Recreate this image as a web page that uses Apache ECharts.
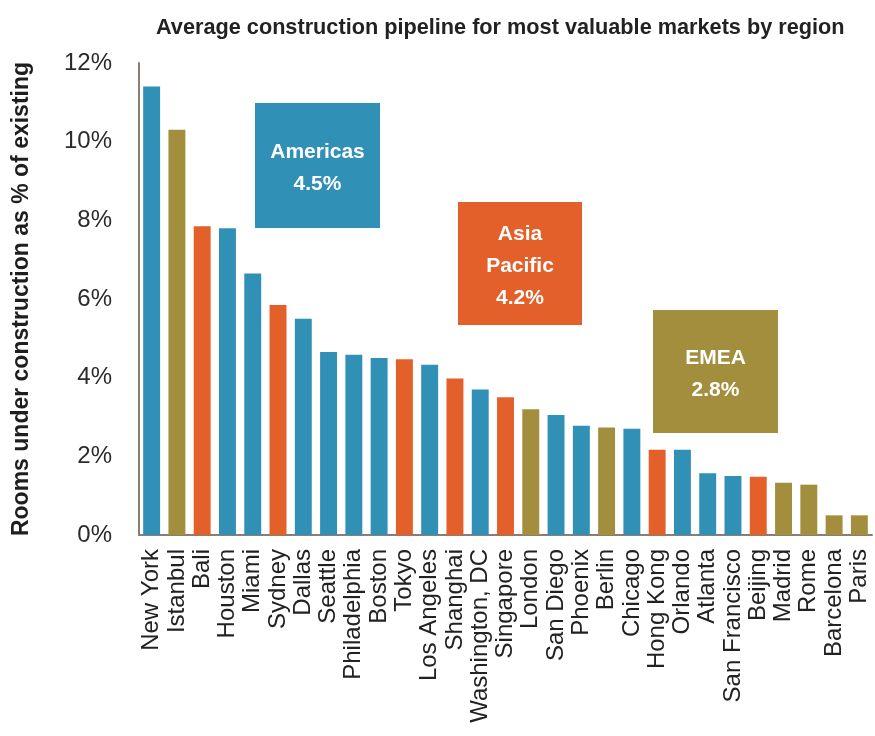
<!DOCTYPE html>
<html>
<head>
<meta charset="utf-8">
<script src="https://cdn.jsdelivr.net/npm/echarts@6/dist/echarts.min.js"></script>
<style>
html,body{margin:0;padding:0;background:#ffffff;}
#chart{width:875px;height:736px;}
</style>
</head>
<body>
<div id="chart"></div>
<script>
// ---- data ----
var titleText = 'Average construction pipeline for most valuable markets by region';
var yAxisTitle = 'Rooms under construction as % of existing';
var cities = ['New York','Istanbul','Bali','Houston','Miami','Sydney','Dallas','Seattle','Philadelphia','Boston','Tokyo','Los Angeles','Shanghai','Washington, DC','Singapore','London','San Diego','Phoenix','Berlin','Chicago','Hong Kong','Orlando','Atlanta','San Francisco','Beijing','Madrid','Rome','Barcelona','Paris'];
var pipeline = [11.4,10.3,7.85,7.8,6.65,5.85,5.5,4.65,4.58,4.5,4.47,4.33,3.98,3.7,3.5,3.2,3.05,2.78,2.73,2.7,2.17,2.17,1.57,1.5,1.48,1.33,1.28,0.5,0.5];
var cityRegion = ['A','E','P','A','A','P','A','A','A','A','P','A','P','A','P','E','A','A','E','A','P','A','A','A','P','E','E','E','E'];
var regionKeys = ['A','P','E'];
var regionNames = ['Americas','Asia\nPacific','EMEA'];
var regionAvg = [4.5, 4.2, 2.8];
var yTicks = [0,2,4,6,8,10,12];

// ---- styles ----
var regionColors = {A:'#3190b6', P:'#e4602a', E:'#a28e3d'};
var fontMain = "'Liberation Sans', Arial, sans-serif";

var barData = pipeline.map(function(v,i){
  return {value:v, itemStyle:{color:regionColors[cityRegion[i]]}};
});

var boxes = [
  {x:255, y:103, w:125, h:125},
  {x:458, y:202, w:124, h:123},
  {x:653, y:310, w:125, h:123}
];
var graphics = [];
regionKeys.forEach(function(k,i){
  var b = boxes[i];
  graphics.push({type:'rect', z:10, shape:{x:b.x,y:b.y,width:b.w,height:b.h}, style:{fill:regionColors[k]}});
  graphics.push({type:'text', z:11, x:b.x+b.w/2, y:b.y+b.h/2+3, style:{
    text: regionNames[i] + '\n' + regionAvg[i].toFixed(1) + '%',
    fill:'#ffffff', font:"bold 21px " + fontMain, align:'center', verticalAlign:'middle', lineHeight:32
  }});
});

var chart = echarts.init(document.getElementById('chart'), null, {renderer:'canvas'});
chart.setOption({
  animation:false,
  backgroundColor:'#ffffff',
  title:{text:titleText, left:151, top:12, textStyle:{fontFamily:fontMain, fontWeight:'bold', fontSize:21.7, color:'#222222'}},
  grid:{left:139, right:3, top:63, bottom:201, containLabel:false},
  xAxis:{
    type:'category', data:cities,
    axisLine:{show:true, lineStyle:{color:'#8c7d73', width:2}},
    axisTick:{show:false},
    axisLabel:{interval:0, rotate:90, margin:14, fontFamily:fontMain, fontSize:24, color:'#222222'}
  },
  yAxis:{
    type:'value', min:0, max:12, interval:2,
    name:yAxisTitle, nameLocation:'middle', nameRotate:90, nameGap:106,
    nameTextStyle:{fontFamily:fontMain, fontWeight:'bold', fontSize:23, color:'#1e1e1e'},
    axisLine:{show:true, lineStyle:{color:'#8c7d73', width:2}},
    axisTick:{show:false},
    splitLine:{show:false},
    axisLabel:{margin:27, fontFamily:fontMain, fontSize:24, color:'#2b2b2b',
      customValues: yTicks,
      formatter:function(v){return v + '%';}}
  },
  series:[{
    type:'bar', data:barData, barCategoryGap:'33%'
  }],
  graphic:graphics
});
</script>
</body>
</html>
